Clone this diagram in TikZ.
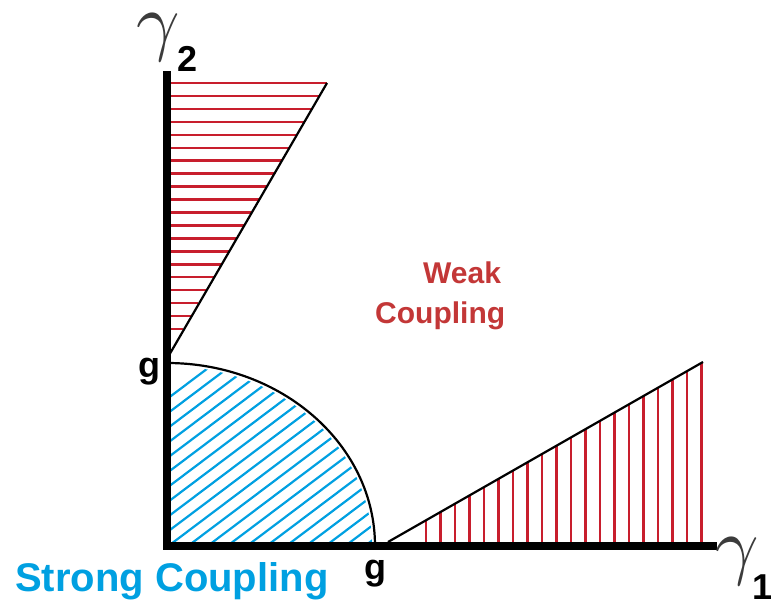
\documentclass[tikz,border=0pt]{standalone}
\usepackage{fontspec}
\setmainfont{Liberation Sans}
\usepackage{xcolor}
\usetikzlibrary{calc}
\definecolor{weakred}{RGB}{200, 30, 45}
\definecolor{labelred}{RGB}{195, 55, 55}
\definecolor{strongblue}{RGB}{0, 160, 225}
\definecolor{gammagray}{RGB}{60, 60, 60}

\begin{document}
\begin{tikzpicture}[x=1pt, y=-1pt,
    axisline/.style={line width=8pt, line join=miter},
    bound/.style={line width=2.2pt},
    weakhatch/.style={draw=weakred, line width=2.4pt},
    stronghatch/.style={draw=strongblue, line width=2.2pt},
    tagtext/.style={inner sep=0pt, font=\bfseries\fontsize{36}{36}\selectfont},
    gam/.style={inner sep=0pt, text=gammagray, scale=7.6}
]
    \useasboundingbox (0,0) rectangle (771,604);

    % Key points
    \coordinate (O) at (167,546);
    \coordinate (g1) at (375,546);
    \coordinate (up0) at (168,357);
    \coordinate (up1) at (327,83);
    \coordinate (lo0) at (388,542);
    \coordinate (lo1) at (703,362);

    % Upper wedge: horizontal hatching
    \foreach \i in {0,...,19} {
        \pgfmathsetmacro{\yy}{83+12.95*\i}
        \pgfmathsetmacro{\xx}{167+(357-\yy)/274*160}
        \draw[weakhatch] (167,\yy) -- (\xx,\yy);
    }

    % Lower wedge: vertical hatching
    \foreach \i in {0,...,19} {
        \pgfmathsetmacro{\xx}{426+14.5*\i}
        \pgfmathsetmacro{\yy}{542-(\xx-388)/315*180}
        \draw[weakhatch] (\xx,546) -- (\xx,\yy);
    }

    % Strong coupling region: diagonal hatching
    \begin{scope}
        \clip (O) -- (372,546) arc[start angle=0, end angle=90, x radius=205pt, y radius=180pt] -- cycle;
        \foreach \k in {0,...,21}
            \draw[stronghatch] (167,399+14.8*\k) -- ++(300,-226);
    \end{scope}

    % Boundaries
    \draw[bound] (g1) arc[start angle=0, end angle=90, x radius=208pt, y radius=183pt];
    \draw[bound] (up0) -- (up1);
    \draw[bound] (lo0) -- (lo1);

    % Axes
    \draw[axisline] (167,71) -- (O) -- (717,546);

    % Labels
    \node[gam, anchor=base] (gam2) at (158,47) {$\gamma$};
    \node[tagtext, anchor=base west] (sub2) at (177,72) {2};
    \node[gam, anchor=base] (gam1) at (737,570) {$\gamma$};
    \node[tagtext, anchor=base west] (sub1) at (752,599) {1};
    \node[tagtext, anchor=base] (gleft) at (149,377) {g};
    \node[tagtext, anchor=base] (gbot) at (375,579) {g};
    \node[tagtext, text=strongblue, font=\bfseries\fontsize{40}{40}\selectfont, anchor=base west] (strong) at (15,591) {Strong Coupling};
    \node[tagtext, text=labelred, font=\bfseries\fontsize{30}{30}\selectfont, anchor=base west] (weak) at (423,283) {Weak};
    \node[tagtext, text=labelred, font=\bfseries\fontsize{30}{30}\selectfont, anchor=base west] (coupling) at (375,323) {Coupling};
\end{tikzpicture}
\end{document}
